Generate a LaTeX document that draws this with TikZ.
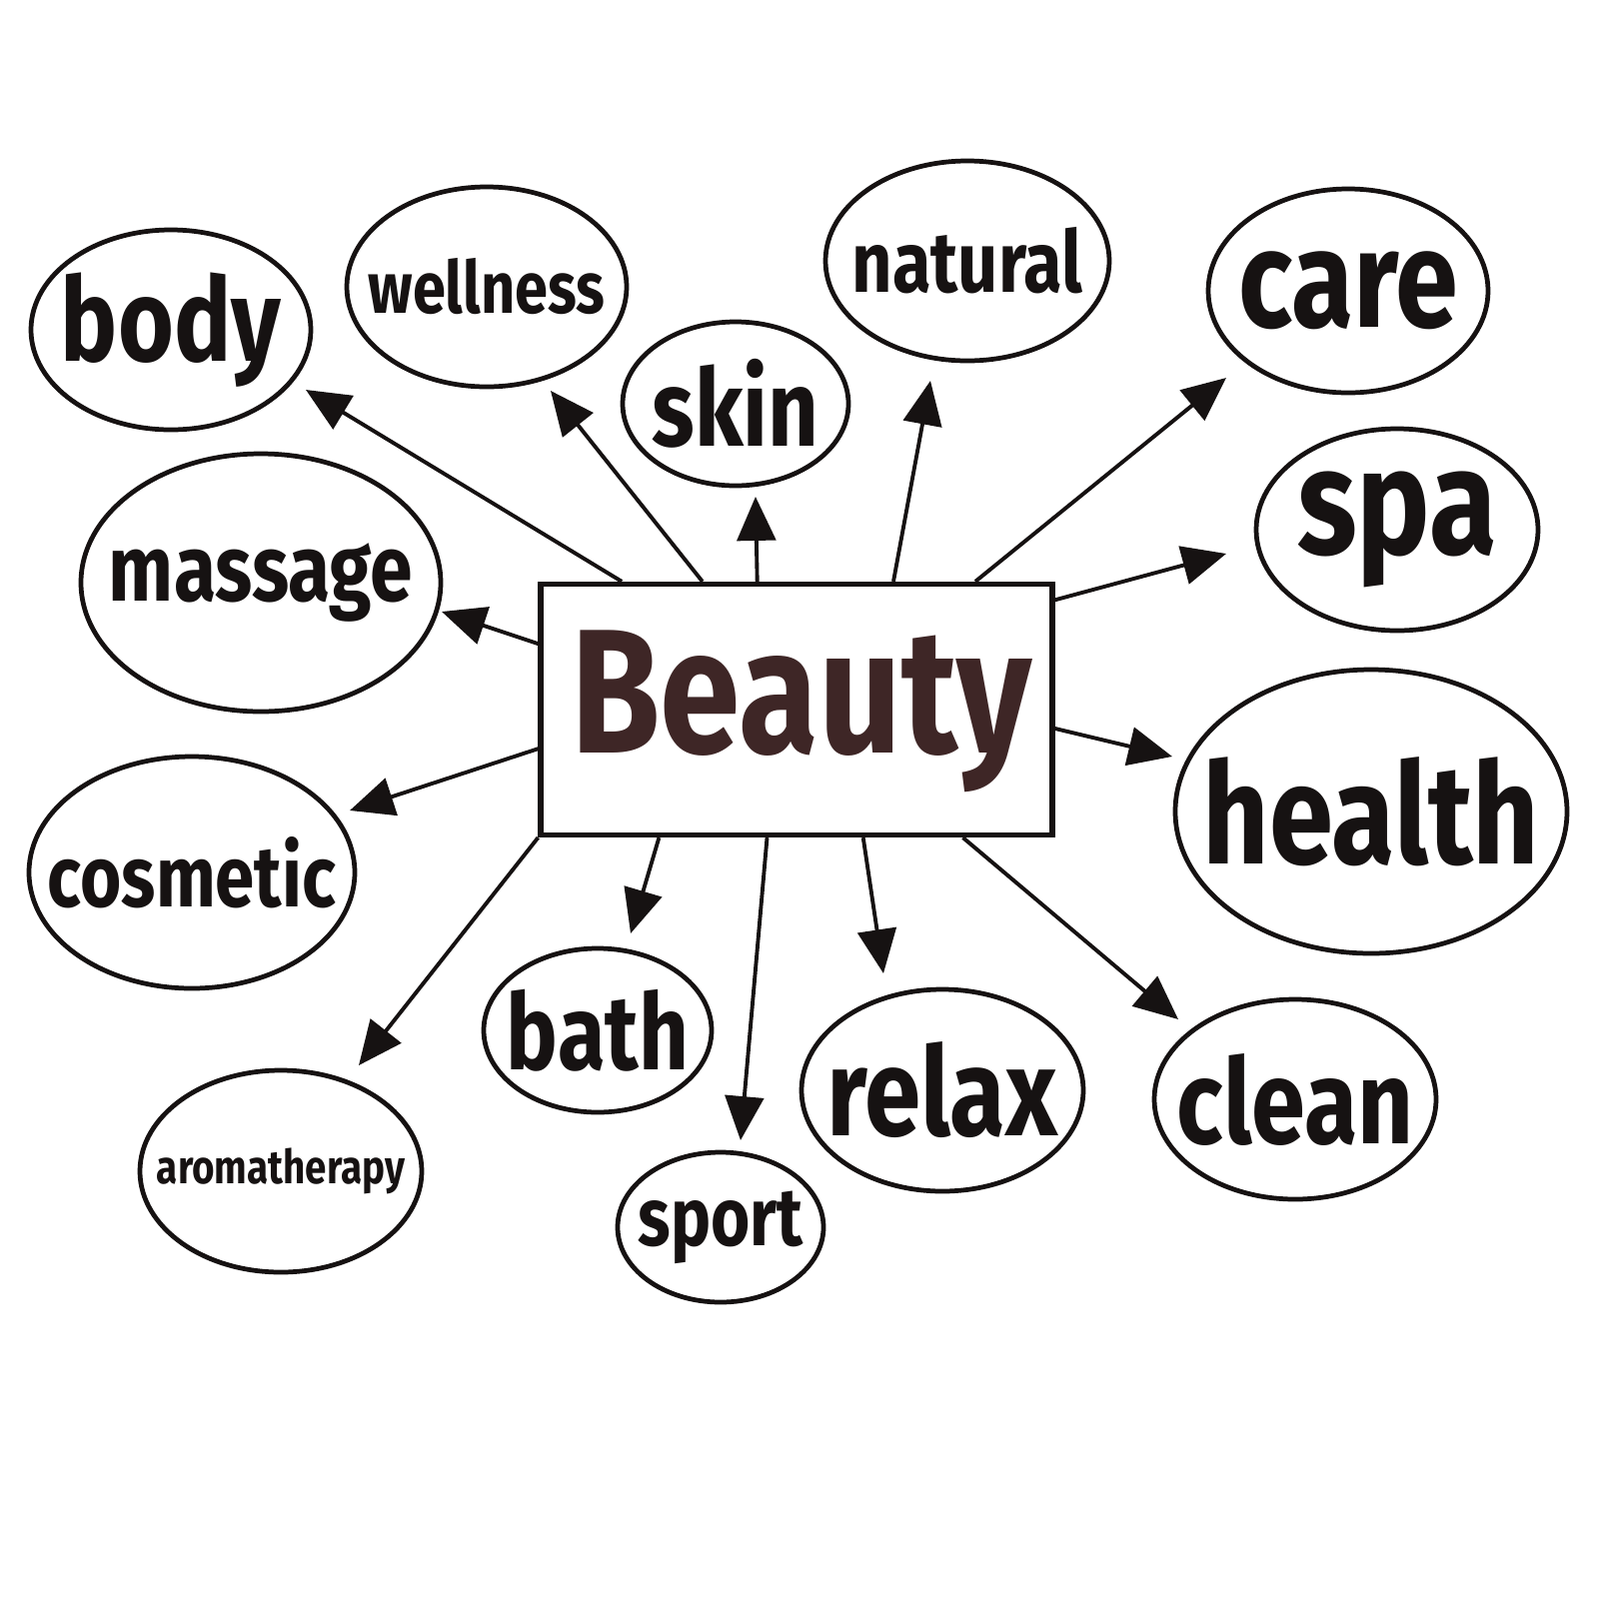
\documentclass[tikz,border=0pt]{standalone}
\usepackage{fontspec}
\setmainfont{Fira Sans}
\usetikzlibrary{shapes.geometric,arrows.meta,calc}
\definecolor{ink}{HTML}{161212}
\definecolor{beautyc}{HTML}{3E2626}
\newcommand\lbl[2]{\resizebox{#1}{!}{\scalebox{1}[1.22]{\bfseries #2}}}
\begin{document}
\begin{tikzpicture}[x=0.1mm,y=-0.1mm,
 ell/.style 2 args={ellipse,draw=ink,line width=1.35pt,minimum width=#1,minimum height=#2,inner sep=0pt},
 txt/.style={inner sep=0pt,text=ink},
 arr/.style={draw=ink,line width=1.1pt,-{Triangle[length=12.5pt,width=11pt]}},
 box/.style={draw=ink,line width=1.5pt,minimum width=51.2mm,minimum height=25.1mm,inner sep=0pt}]
\useasboundingbox[fill=white] (0,0) rectangle (1600,1600);

% central box
\node[box] (beauty) at (797,710) {};
\node[txt,text=beautyc] (beautyt) at (802,712) {\lbl{4.61cm}{Beauty}};

% ellipses
\node[ell={28mm}{20mm}]     (body)     at (171,330) {};
\node[ell={28mm}{20mm}]     (wellness) at (487,287) {};
\node[ell={28.4mm}{20mm}]   (natural)  at (968,261) {};
\node[ell={28mm}{20.4mm}]   (care)     at (1349,291) {};
\node[ell={22.6mm}{16.4mm}] (skin)     at (736,404) {};
\node[ell={28.2mm}{20.2mm}] (spa)      at (1398,530) {};
\node[ell={36mm}{25.8mm}]   (massage)  at (261,583) {};
\node[ell={39.2mm}{28.4mm}] (health)   at (1372,812) {};
\node[ell={32.6mm}{23.2mm}] (cosmetic) at (192,873) {};
\node[ell={22.8mm}{16.4mm}] (bath)     at (598,1031) {};
\node[ell={28.2mm}{20.2mm}] (relax)    at (943,1091) {};
\node[ell={28.2mm}{20mm}]   (clean)    at (1296,1100) {};
\node[ell={28.2mm}{20.2mm}] (aroma)    at (281,1172) {};
\node[ell={20.6mm}{15mm}]   (sport)    at (721,1228) {};

% labels
\node[txt] (bodyt)     at (body)     {\lbl{2.2cm}{body}};
\node[txt] (wellnesst) at (wellness) {\lbl{2.37cm}{wellness}};
\node[txt] (naturalt)  at (natural)  {\lbl{2.31cm}{natural}};
\node[txt] (caret)     at (care)     {\lbl{2.2cm}{care}};
\node[txt] (skint)     at (skin)     {\lbl{1.67cm}{skin}};
\node[txt] (spat)      at (spa)      {\lbl{2.0cm}{spa}};
\node[txt] (massaget)  at (massage)  {\lbl{3.04cm}{massage}};
\node[txt] (healtht)   at (health)   {\lbl{3.37cm}{health}};
\node[txt] (cosmetict) at (cosmetic) {\lbl{2.88cm}{cosmetic}};
\node[txt] (batht)     at (bath)     {\lbl{1.82cm}{bath}};
\node[txt] (relaxt)    at (relax)    {\lbl{2.31cm}{relax}};
\node[txt] (cleant)    at (clean)    {\lbl{2.37cm}{clean}};
\node[txt] (aromat)    at (aroma)    {\lbl{2.48cm}{aromatherapy}};
\node[txt] (sportt)    at (sport)    {\lbl{1.65cm}{sport}};

% arrow tips
\coordinate (tbody)     at (306,390);
\coordinate (twellness) at (551,391);
\coordinate (tskin)     at (756,497);
\coordinate (tnatural)  at (931,381);
\coordinate (tcare)     at (1227,378);
\coordinate (tspa)      at (1227,554);
\coordinate (tmassage)  at (442,612);
\coordinate (thealth)   at (1173,757);
\coordinate (tcosmetic) at (350,811);
\coordinate (taroma)    at (359,1066);
\coordinate (tbath)     at (631,934);
\coordinate (tsport)    at (741,1141);
\coordinate (trelax)    at (884,974);
\coordinate (tclean)    at (1179,1020);

% arrows
\draw[arr] ($(beauty.north west)!0.162!(beauty.north east)$) -- (tbody);
\draw[arr] ($(beauty.north west)!0.318!(beauty.north east)$) -- (twellness);
\draw[arr] ($(beauty.north west)!0.424!(beauty.north east)$) -- (tskin);
\draw[arr] ($(beauty.north west)!0.6875!(beauty.north east)$) -- (tnatural);
\draw[arr] ($(beauty.north west)!0.846!(beauty.north east)$) -- (tcare);
\draw[arr] ($(beauty.north east)!0.072!(beauty.south east)$) -- (tspa);
\draw[arr] ($(beauty.north east)!0.574!(beauty.south east)$) -- (thealth);
\draw[arr] ($(beauty.north west)!0.243!(beauty.south west)$) -- (tmassage);
\draw[arr] ($(beauty.north west)!0.653!(beauty.south west)$) -- (tcosmetic);
\draw[arr] (beauty.south west) -- (taroma);
\draw[arr] ($(beauty.south west)!0.234!(beauty.south east)$) -- (tbath);
\draw[arr] ($(beauty.south west)!0.443!(beauty.south east)$) -- (tsport);
\draw[arr] ($(beauty.south west)!0.629!(beauty.south east)$) -- (trelax);
\draw[arr] ($(beauty.south west)!0.822!(beauty.south east)$) -- (tclean);
\end{tikzpicture}
\end{document}
